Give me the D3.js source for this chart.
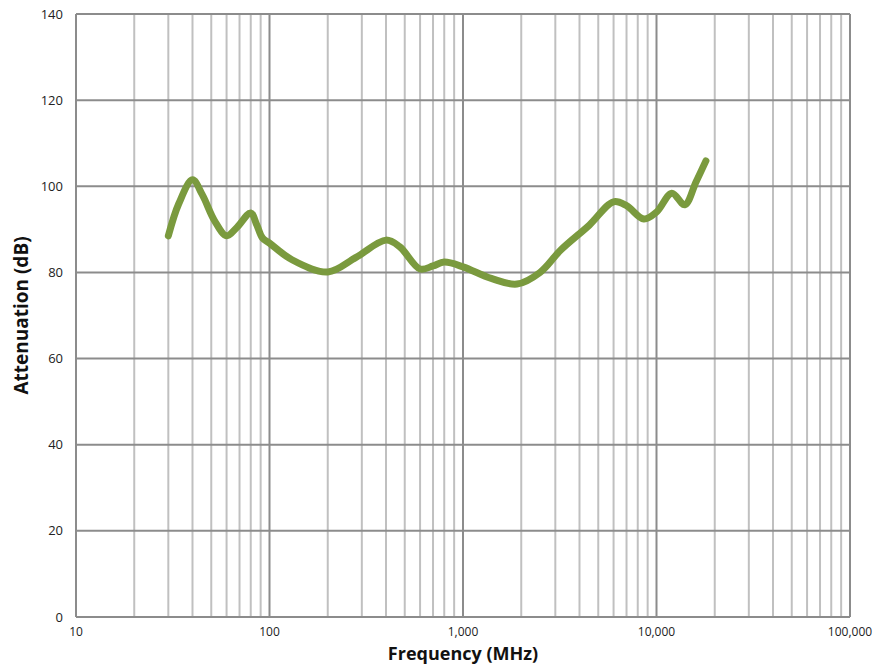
<!DOCTYPE html>
<html>
<head>
<meta charset="utf-8">
<script src="https://cdn.jsdelivr.net/npm/d3@7"></script>
<style>
	body { margin: 0; background: #fff; }
	svg text { font-family: "Open Sans", "Liberation Sans", sans-serif; }
</style>
</head>
<body>
<svg id="chart" width="886" height="666"></svg>
<script>
// frequency in MHz, attenuation in dB
var freq = [30, 34, 40, 45, 52, 60, 68, 80, 86, 92, 100, 130, 200, 280, 400, 470, 600, 700, 800, 1000, 1400, 1900, 2500, 3200, 4500, 6000, 7000, 8600, 10000, 12000, 14000, 16000, 18000];
var atten = [88.5, 96, 101.5, 98, 92, 88.5, 90.5, 93.8, 91, 88, 86.8, 83, 80.1, 83.5, 87.5, 86, 80.8, 81.5, 82.4, 81.3, 78.6, 77.3, 80, 85.2, 91, 96.4, 95.5, 92.4, 94, 98.4, 95.7, 101, 105.9];
var yTicks = [0, 20, 40, 60, 80, 100, 120, 140];
var xTicks = [10, 100, 1000, 10000, 100000];

var svg = d3.select("#chart"),
	margin = {top: 14, right: 36, bottom: 49, left: 76},
	width = +svg.attr("width") - margin.left - margin.right,
	height = +svg.attr("height") - margin.top - margin.bottom;

var x = d3.scaleLog().domain([10, 100000]).range([0, width]);
var y = d3.scaleLinear().domain([0, 140]).range([height, 0]);

var g = svg.append("g").attr("transform", "translate(" + margin.left + "," + margin.top + ")");

// minor vertical grid
var minor = [];
for (var d = 10; d < 100000; d *= 10) {
	for (var m = 2; m <= 9; m++) minor.push(d * m);
}
g.append("g").selectAll("line")
	.data(minor)
	.enter().append("line")
	.attr("x1", function(d) { return x(d); })
	.attr("x2", function(d) { return x(d); })
	.attr("y1", 0)
	.attr("y2", height)
	.attr("stroke", "#c0c0c0")
	.attr("stroke-width", 2);

// major vertical grid
g.append("g").selectAll("line")
	.data(xTicks)
	.enter().append("line")
	.attr("x1", function(d) { return x(d); })
	.attr("x2", function(d) { return x(d); })
	.attr("y1", 0)
	.attr("y2", height)
	.attr("stroke", "#8c8c8c")
	.attr("stroke-width", 2);

// horizontal grid
g.append("g").selectAll("line")
	.data(yTicks)
	.enter().append("line")
	.attr("x1", 0)
	.attr("x2", width)
	.attr("y1", function(d) { return y(d); })
	.attr("y2", function(d) { return y(d); })
	.attr("stroke", "#8c8c8c")
	.attr("stroke-width", 2);

// axes labels
var fmt = d3.format(",");
g.append("g").selectAll("text")
	.data(yTicks)
	.enter().append("text")
	.attr("x", -13)
	.attr("y", function(d) { return y(d); })
	.attr("dy", "0.35em")
	.attr("text-anchor", "end")
	.attr("font-size", 13)
	.attr("fill", "#222")
	.text(function(d) { return d; });

g.append("g").selectAll("text")
	.data(xTicks)
	.enter().append("text")
	.attr("x", function(d) { return x(d); })
	.attr("y", height + 19)
	.attr("text-anchor", "middle")
	.attr("font-size", 12)
	.attr("fill", "#222")
	.text(function(d) { return fmt(d); });

// data line
var pts = freq.map(function(f, i) { return [f, atten[i]]; });
var line = d3.line()
	.x(function(d) { return x(d[0]); })
	.y(function(d) { return y(d[1]); })
	.curve(d3.curveCatmullRom.alpha(0.5));

g.append("path")
	.datum(pts)
	.attr("d", line)
	.attr("fill", "none")
	.attr("stroke", "#7a9a3e")
	.attr("stroke-width", 7)
	.attr("stroke-linecap", "round")
	.attr("stroke-linejoin", "round");

// titles
svg.append("text")
	.attr("x", margin.left + width / 2)
	.attr("y", 660)
	.attr("text-anchor", "middle")
	.attr("font-size", 18)
	.attr("font-weight", "bold")
	.attr("fill", "#111")
	.text("Frequency (MHz)");

svg.append("text")
	.attr("transform", "translate(28," + (margin.top + height / 2) + ") rotate(-90)")
	.attr("text-anchor", "middle")
	.attr("font-size", 19)
	.attr("font-weight", "bold")
	.attr("fill", "#111")
	.text("Attenuation (dB)");
</script>
</body>
</html>
